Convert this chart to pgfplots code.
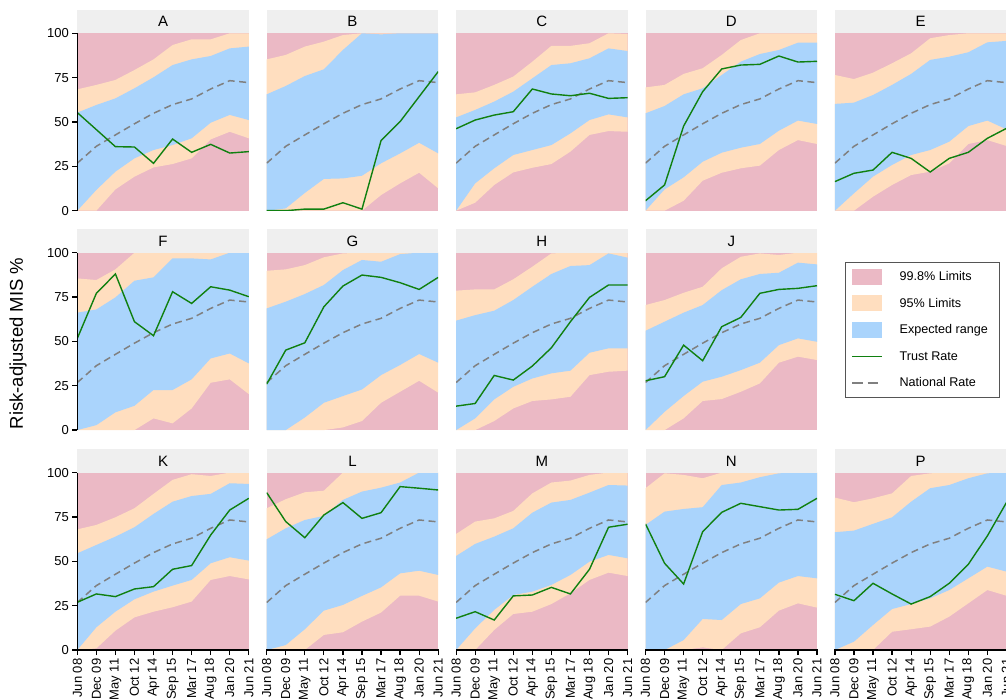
\documentclass[border=0pt]{standalone}
\usepackage{fontspec}
\setmainfont{Liberation Sans}
\usepackage{pgfplots}
\pgfplotsset{compat=1.18}
\usepackage{pgfplotstable}
\usepgfplotslibrary{fillbetween}

\definecolor{cpink}{RGB}{235,185,197}
\definecolor{cpeach}{RGB}{255,222,191}
\definecolor{cblue}{RGB}{170,212,252}
\definecolor{cstrip}{RGB}{239,239,239}
\definecolor{cgreen}{RGB}{16,128,16}
\definecolor{cgray}{RGB}{128,128,128}
\definecolor{cframe}{RGB}{85,85,85}

\newcommand{\tickfont}{\fontsize{13}{15}\selectfont}
\newcommand{\titlefont}{\fontsize{15}{17}\selectfont}
\newcommand{\legfont}{\fontsize{12.6}{14}\selectfont}

\pgfplotsset{
  set layers,
  every non boxed x axis/.style={},
  every non boxed y axis/.style={},
  panel/.style={
    set layers,
    scale only axis, width=171.5pt, height=177.4pt, anchor=north west,
    xmin=0, xmax=9, ymin=0, ymax=100, enlargelimits=false,
    axis x line*=bottom, axis y line*=left,
    x axis line style={-, black, line width=1.2pt},
    y axis line style={-, black, line width=1.2pt},
    ytick={0,25,50,75,100},
    xtick={0,...,9},
    xticklabels={Jun 08,Dec 09,May 11,Oct 12,Apr 14,Sep 15,Mar 17,Aug 18,Jan 20,Jun 21},
    axis background/.style={fill=cpink},
    tick align=outside, major tick length=5pt,
    tick style={black, line width=1.2pt},
    yticklabel style={font=\tickfont},
    xticklabel style={font=\tickfont, rotate=90, anchor=east},
    /pgf/number format/assume math mode=true,
  },
  noleft/.style={hide y axis},
  nobot/.style={hide x axis},
}

\pgfplotstableread{
x nat
0 26.8
1 36.3
2 42.7
3 49.0
4 54.9
5 59.8
6 63.0
7 68.6
8 73.3
9 72.2
}\natdata

\pgfplotstableread{
x l998 l95 u95 u998 tr
0 0 0 55.3 68.4 55.3
1 0 11.7 59.6 70.9 45.7
2 12 22 63.3 73.7 36.1
3 19.2 29.5 69 79.3 35.9
4 24.4 34.2 75.2 85.3 26.7
5 26.3 37 82.1 93.4 40.4
6 29.5 40.8 85.3 96.6 32.9
7 40.2 49.6 87.2 96.6 37.4
8 44.5 54 91.5 100 32.5
9 40.8 51.1 92.5 100 33.3
}\dA

\pgfplotstableread{
x l998 l95 u95 u998 tr
0 0 0 65.6 85.3 0
1 0 1.3 70.3 87.8 0
2 0 10 75.9 92.5 0.9
3 0 17.9 79.7 95.3 0.9
4 0 18.2 90.6 99 4.5
5 0 19.7 100 100 0.9
6 8.8 26.7 99.4 100 39.5
7 15.4 32.3 100 100 50.2
8 21.4 38.3 100 100 64.3
9 12.6 32.3 100 100 78.4
}\dB

\pgfplotstableread{
x l998 l95 u95 u998 tr
0 0 0 52.6 65.6 46.2
1 4.5 15.4 56.8 66.7 51.1
2 14.5 23.9 61.5 70.9 53.9
3 21.6 31.4 67.1 75.6 55.8
4 24.2 34.2 74.6 84 68.6
5 26.3 37 82.1 92.9 65.8
6 33.3 43.6 83.1 92.9 64.8
7 42.7 51.1 85.9 94.4 66.2
8 44.9 54.3 91.5 100 63.3
9 44.5 52.6 90 99.6 63.7
}\dC

\pgfplotstableread{
x l998 l95 u95 u998 tr
0 0 0 54.9 69.5 5.6
1 0 12 59 70.9 14.5
2 5.6 18.8 65.6 77.1 47.7
3 16.9 27.6 69 80.3 67.1
4 21.4 32.7 76.5 87.8 79.9
5 23.9 35.5 84 96.2 82.1
6 25.4 37.6 88.3 100 82.5
7 34.2 45.1 90.6 100 87.2
8 39.8 50.8 94.7 100 83.8
9 37.6 48.9 94.7 100 84.2
}\dD

\pgfplotstableread{
x l998 l95 u95 u998 tr
0 0 0 60.2 76.5 16.4
1 0 9.8 60.9 74.2 21.1
2 7.9 19.2 65.2 77.8 22.9
3 14.5 25.8 70.9 83.1 32.9
4 20.1 31.4 77.1 88.7 29.5
5 22 34.2 85 97.2 21.8
6 26.7 38.9 86.8 99 29.5
7 37.6 47.7 89.3 100 32.9
8 39.8 50.8 94.9 100 40.8
9 36.5 45.9 95.7 100 46.4
}\dE

\pgfplotstableread{
x l998 l95 u95 u998 tr
0 0 0 66.2 85.5 51.7
1 0 2.8 68 84.6 77.1
2 0 10 74.8 90.6 88
3 0 13.7 84.2 100 61.1
4 6.6 22.6 86.1 100 53.2
5 3.8 22.6 96.8 100 78
6 12.2 28.6 96.8 100 71.4
7 26.7 40.4 96.2 100 80.8
8 28.6 43.2 100 100 78.9
9 20.3 37.6 100 100 75.2
}\dF

\pgfplotstableread{
x l998 l95 u95 u998 tr
0 0 0 68.6 89.8 25.9
1 0 0 72.4 90.6 45.1
2 0 7.1 76.7 93 49.2
3 0 15.4 81.8 97.4 69.5
4 1.5 19.2 90.2 99.6 81.2
5 5.1 22.9 95.9 100 87.4
6 15.4 31 94.9 100 86.1
7 21.6 36.7 99.2 100 83.1
8 27.8 42.9 100 100 79.3
9 21.1 38 100 100 86.1
}\dG

\pgfplotstableread{
x l998 l95 u95 u998 tr
0 0 0 61.7 78.6 13.5
1 0 6.6 64.8 79.3 15
2 5.1 17.3 67.3 79.3 30.8
3 12.2 24.4 73.3 85 28.2
4 16.4 29.1 80.8 92.1 36.1
5 17.3 32 88 99.6 46.4
6 18.8 33.5 92.5 100 61.1
7 31 43.6 93 100 74.8
8 32.9 46.1 99.6 100 81.8
9 33.5 46.1 97.2 100 81.8
}\dH

\pgfplotstableread{
x l998 l95 u95 u998 tr
0 0 0 56 70.5 27.8
1 0 10.3 61.1 73.3 30.1
2 6.6 19.2 66.2 77.4 47.9
3 16.4 27.3 70.5 80.8 39.1
4 17.5 30.1 78.9 91.2 58.3
5 21.6 33.8 85 97.7 63.5
6 26.3 38 88 99.6 77.1
7 38 47.9 88.7 98.7 79.3
8 41.4 51.7 94.4 100 79.9
9 39.5 49.8 93.4 100 81.4
}\dJ

\pgfplotstableread{
x l998 l95 u95 u998 tr
0 0 0 54.5 68 26.9
1 0.9 12.8 59.2 70.5 31.6
2 10.9 21.6 63.9 74.8 30.1
3 18.4 28.6 69.2 79.9 34.4
4 21.6 32.9 76.7 88 35.7
5 24.1 36.3 83.6 95.9 45.5
6 27.3 39.5 86.8 99.1 47.6
7 39.5 48.9 88 98.1 64.8
8 41.7 52.3 94 100 78.9
9 39.8 50.4 93.6 100 85.5
}\dK

\pgfplotstableread{
x l998 l95 u95 u998 tr
0 0 0 62.4 79.9 88.7
1 0 2.8 68.6 85 72.4
2 0 11.7 73.3 88.9 63.3
3 8.5 22.2 75.6 89.8 76.1
4 10 25.4 84.6 100 83.1
5 16 30.5 89.3 100 74.2
6 21.1 35.3 91.5 100 77.4
7 30.6 43.2 94.4 100 92.1
8 30.6 44.7 100 100 91.2
9 27.3 42.3 100 100 90.2
}\dL

\pgfplotstableread{
x l998 l95 u95 u998 tr
0 0 0 53 65.4 17.9
1 0 12.2 59.8 72.4 21.6
2 11.3 22.6 63.9 74.2 16.9
3 20.3 31 68.6 78.4 30.5
4 21.6 32.9 77.4 88.3 31
5 25.9 36.7 83.1 94.4 35.3
6 32 42.3 84.6 95.5 31.6
7 39.5 49.8 88.7 98.7 45.5
8 43.6 53.6 93 100 69.2
9 41.7 51.7 92.7 100 70.9
}\dM

\pgfplotstableread{
x l998 l95 u95 u998 tr
0 0 0 70.5 91.2 71.1
1 0 0 78 99.6 48.9
2 0 5.6 79.5 98.7 37.2
3 1.5 17.5 80.5 96.8 66.7
4 0 16.9 93 100 77.6
5 9.4 25.9 94.4 100 82.7
6 12.8 29.1 97.4 100 80.8
7 22.2 38 99.6 100 78.9
8 26.3 41.7 100 100 79.3
9 23.9 40.4 100 100 85.5
}\dN

\pgfplotstableread{
x l998 l95 u95 u998 tr
0 0 0 66.4 85.9 31.4
1 0 4.7 67.3 83.3 27.8
2 0 14.1 71.1 85.5 37.6
3 10.3 23.1 74.8 88.3 31.6
4 11.7 25.9 83.6 98.1 25.9
5 13.2 29.1 91.2 99.6 30.1
6 18.8 33.8 93 100 37.6
7 26.3 40.4 96.8 100 48.3
8 33.8 47 99.6 100 64.3
9 30.6 44.2 100 100 83.1
}\dP

% #1 left x, #2 top y (px from top), #3 title, #4 table, #5 extra axis options
\newcommand{\panel}[5]{%
  \fill[cstrip] (#1pt,-#2pt) rectangle ++(171.5pt,23.3pt);
  \node[font=\titlefont, inner sep=0pt] at ([shift={(85.75pt,11.65pt)}]#1pt,-#2pt) {#3};
  \begin{axis}[panel, at={(#1pt,-#2pt)}, #5]
    \addplot[name path=ua, draw=none] table[x=x,y=u998]{#4};
    \addplot[name path=la, draw=none] table[x=x,y=l998]{#4};
    \addplot[name path=ub, draw=none] table[x=x,y=u95]{#4};
    \addplot[name path=lb, draw=none] table[x=x,y=l95]{#4};
    \addplot[fill=cpeach, draw=none] fill between[of=ua and la];
    \addplot[fill=cblue, draw=none] fill between[of=ub and lb];
    \addplot[cgray, line width=1.5pt, dash pattern=on 7pt off 4.5pt] table[x=x,y=nat]{\natdata};
    \addplot[cgreen, line width=1.4pt] table[x=x,y=tr]{#4};
  \end{axis}%
}
% axis lines and ticks, drawn as thin filled rectangles
\newcommand{\leftax}[2]{%
  \fill[black] (#1pt-0.6pt,-#2pt) rectangle (#1pt+0.6pt,-#2pt-177.4pt);
  \foreach \k in {0,...,4} {\fill[black] (#1pt-5.6pt,-#2pt-\k*44.35pt+0.6pt) rectangle (#1pt,-#2pt-\k*44.35pt-0.6pt);}
}
\newcommand{\botax}[2]{%
  \fill[black] (#1pt-0.6pt,-#2pt-176.8pt) rectangle (#1pt+172.1pt,-#2pt-178pt);
  \foreach \k in {0,...,9} {\fill[black] (#1pt+\k*19.0556pt-0.6pt,-#2pt-177.4pt) rectangle (#1pt+\k*19.0556pt+0.6pt,-#2pt-182.4pt);}
}

\begin{document}
\begin{tikzpicture}

\panel{77.3}{33.3}{A}{\dA}{nobot}
\panel{266.7}{33.3}{B}{\dB}{noleft,nobot}
\panel{456.1}{33.3}{C}{\dC}{noleft,nobot}
\panel{645.5}{33.3}{D}{\dD}{noleft,nobot}
\panel{834.9}{33.3}{E}{\dE}{noleft,nobot}

\panel{77.3}{252.7}{F}{\dF}{nobot}
\panel{266.7}{252.7}{G}{\dG}{noleft,nobot}
\panel{456.1}{252.7}{H}{\dH}{noleft,nobot}
\panel{645.5}{252.7}{J}{\dJ}{noleft,nobot}

\panel{77.3}{472.6}{K}{\dK}{}
\panel{266.7}{472.6}{L}{\dL}{noleft}
\panel{456.1}{472.6}{M}{\dM}{noleft}
\panel{645.5}{472.6}{N}{\dN}{noleft}
\panel{834.9}{472.6}{P}{\dP}{noleft}

\leftax{77.3}{33.3}
\leftax{77.3}{252.7}
\leftax{77.3}{472.6}
\botax{77.3}{472.6}
\botax{266.7}{472.6}
\botax{456.1}{472.6}
\botax{645.5}{472.6}
\botax{834.9}{472.6}

\node[rotate=90, font=\fontsize{18.5}{20}\selectfont] at (18pt,-343.5pt) {Risk-adjusted MIS \%};

\begin{axis}[set layers, at={(844.7pt,-261.7pt)}, anchor=north west, hide axis, scale only axis,
  width=150pt, height=130pt, xmin=0, xmax=1, ymin=0, ymax=1,
  legend style={at={(0,1)}, anchor=north west, draw=cframe, line width=0.8pt,
    font=\legfont, inner xsep=6.3pt, inner ysep=6.6pt, row sep=10.6pt,
    nodes={inner sep=0pt},
    /tikz/every odd column/.append style={column sep=16.7pt}},
  legend cell align=left]
  \addlegendimage{legend image code/.code={\path[fill=cpink, draw=none] (0pt,-8pt) rectangle (30pt,8pt);}}
  \addlegendentry{\makebox[93pt][l]{99.8\% Limits}}
  \addlegendimage{legend image code/.code={\path[fill=cpeach, draw=none] (0pt,-8pt) rectangle (30pt,8pt);}}
  \addlegendentry{95\% Limits}
  \addlegendimage{legend image code/.code={\path[fill=cblue, draw=none] (0pt,-8pt) rectangle (30pt,8pt);}}
  \addlegendentry{Expected range}
  \addlegendimage{legend image code/.code={\path[draw=none, fill=none] (0pt,-8pt) rectangle (30pt,8pt); \draw[cgreen, line width=1.4pt] (0pt,0pt) -- (30pt,0pt);}}
  \addlegendentry{Trust Rate}
  \addlegendimage{legend image code/.code={\path[draw=none, fill=none] (0pt,-8pt) rectangle (30pt,8pt); \draw[cgray, line width=1.5pt, dash pattern=on 10.5pt off 5pt] (0pt,0pt) -- (30pt,0pt);}}
  \addlegendentry{National Rate}
\end{axis}

\pgfresetboundingbox
\path[use as bounding box] (0pt,0pt) rectangle (1006pt,-700pt);
\end{tikzpicture}
\end{document}
